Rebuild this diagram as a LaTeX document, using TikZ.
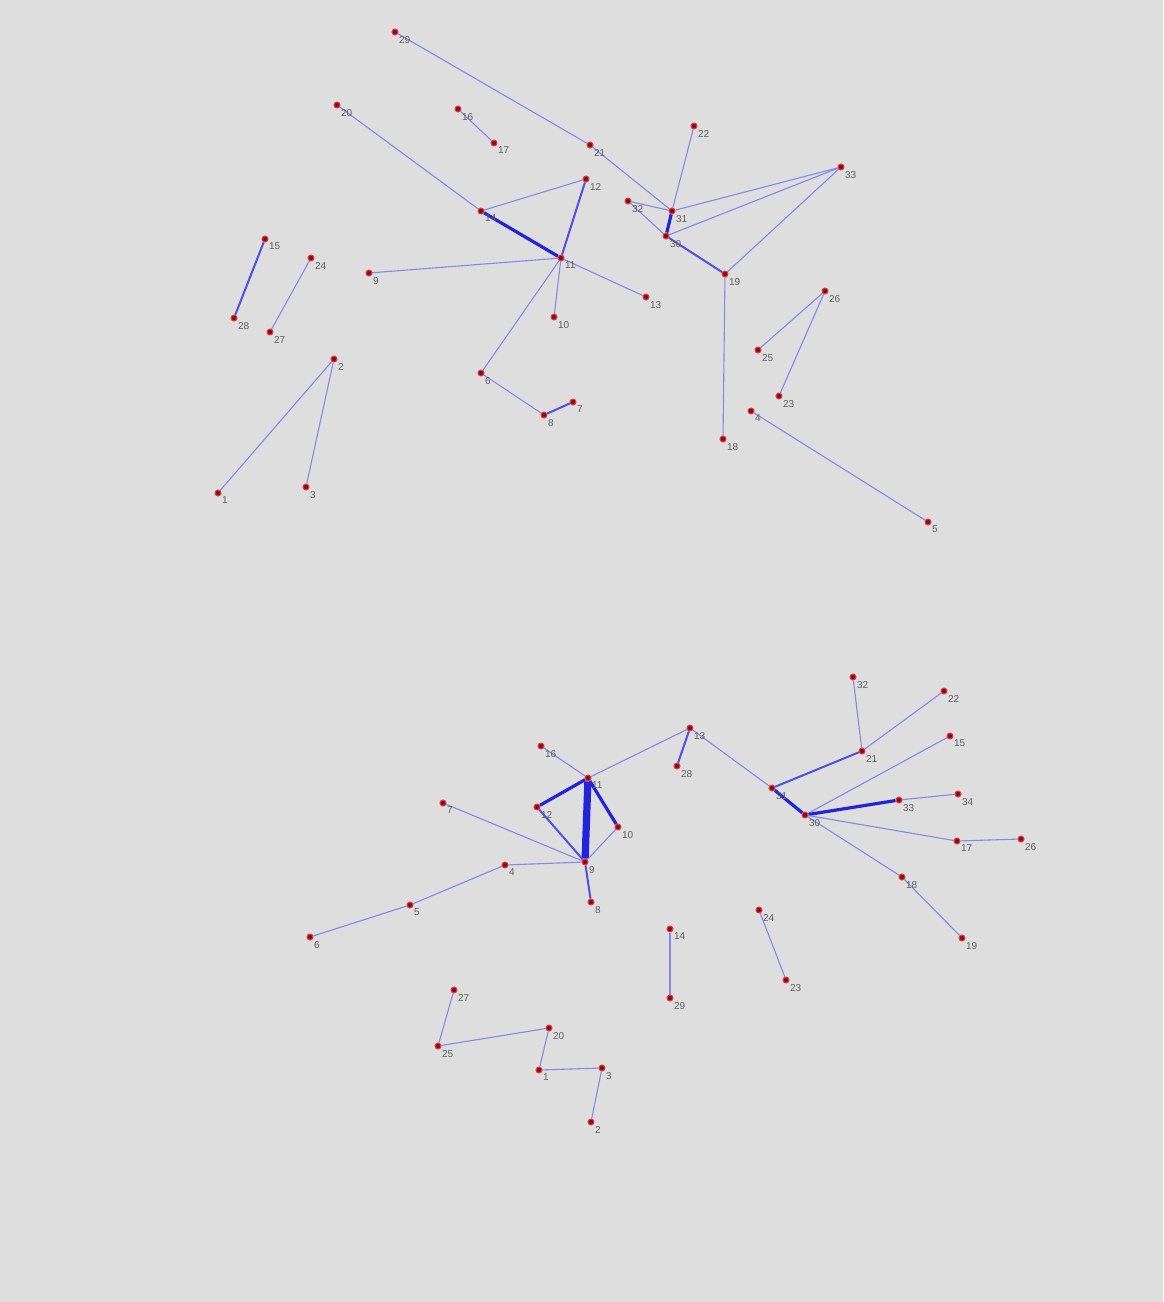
\documentclass[tikz,border=0pt]{standalone}
\usepackage{fontspec}
\setmainfont{Liberation Sans}
\definecolor{bgc}{RGB}{222,222,222}
\definecolor{dotc}{RGB}{140,10,20}
\definecolor{halo}{RGB}{225,60,60}
\definecolor{ethin}{RGB}{135,135,232}
\definecolor{emid}{RGB}{80,80,225}
\definecolor{ethick}{RGB}{35,35,220}
\definecolor{lblc}{RGB}{95,95,95}
\pgfdeclarelayer{bglayer}
\pgfdeclarelayer{edgelayer}
\pgfsetlayers{bglayer,edgelayer,main}
\begin{document}
\begin{tikzpicture}[x=0.5pt,y=-0.5pt,
  v/.style={circle,fill=dotc,draw=halo,line width=0.5pt,inner sep=0pt,minimum size=3pt},
  lbl/.style={text=lblc,font=\fontsize{5}{5}\selectfont,inner sep=0.6pt,anchor=north west},
  e1/.style={draw=ethin,line width=0.55pt},
  e2/.style={draw=emid,line width=1pt},
  e3/.style={draw=ethick,line width=1.6pt},
  e4/.style={draw=ethick,line width=3.6pt}]
\begin{pgfonlayer}{bglayer}
\fill[bgc] (0,0) rectangle (1163,1302);
\end{pgfonlayer}
\useasboundingbox (0,0) rectangle (1163,1302);
% ---------------- top graph ----------------
\foreach \n/\x/\y in {29/395/32, 20/337/105, 16/458/109, 17/494/143, 21/590/145,
  22/694/126, 33/841/167, 12/586/179, 14/481/211, 32/628/201, 31/672/211,
  30/666/236, 11/561/258, 9/369/273, 19/725/274, 13/646/297, 10/554/317,
  15/265/239, 24/311/258, 28/234/318, 27/270/332, 2/334/359, 6/481/373,
  7/573/402, 8/544/415, 26/825/291, 25/758/350, 23/779/396, 4/751/411,
  18/723/439, 5/928/522, 1/218/493, 3/306/487}
  {\node[v,label={[lbl]south east:\n}] (a\n) at (\x,\y) {};}
% ---------------- bottom graph ----------------
\foreach \n/\x/\y in {32/853/677, 22/944/691, 13/690/728, 16/541/746, 15/950/736,
  21/862/751, 28/677/766, 11/588/778, 31/772/788, 34/958/794, 33/899/800,
  7/443/803, 12/537/807, 30/805/815, 10/618/827, 17/957/841, 26/1021/839,
  9/585/862, 4/505/865, 18/902/877, 8/591/902, 5/410/905, 6/310/937,
  19/962/938, 14/670/929, 24/759/910, 29/670/998, 23/786/980, 27/454/990,
  20/549/1028, 25/438/1046, 1/539/1070, 3/602/1068, 2/591/1122}
  {\node[v,label={[lbl]south east:\n}] (b\n) at (\x,\y) {};}
\begin{pgfonlayer}{edgelayer}
% top edges
\draw[e1] (a29) -- (a21);
\draw[e1] (a21) -- (a31);
\draw[e1] (a20) -- (a14);
\draw[e1] (a16) -- (a17);
\draw[e1] (a14) -- (a12);
\draw[e3] (a14) -- (a11);
\draw[e2] (a12) -- (a11);
\draw[e1] (a11) -- (a9);
\draw[e1] (a11) -- (a13);
\draw[e1] (a11) -- (a10);
\draw[e1] (a11) -- (a6);
\draw[e1] (a6) -- (a8);
\draw[e2] (a8) -- (a7);
\draw[e1] (a22) -- (a31);
\draw[e1] (a32) -- (a31);
\draw[e1] (a32) -- (a30);
\draw[e3] (a31) -- (a30);
\draw[e1] (a31) -- (a33);
\draw[e1] (a30) -- (a33);
\draw[e1] (a19) -- (a33);
\draw[e2] (a30) -- (a19);
\draw[e1] (a19) -- (a18);
\draw[e2] (a15) -- (a28);
\draw[e1] (a24) -- (a27);
\draw[e1] (a2) -- (a1);
\draw[e1] (a2) -- (a3);
\draw[e1] (a26) -- (a25);
\draw[e1] (a26) -- (a23);
\draw[e1] (a4) -- (a5);
% bottom edges
\draw[e1] (b16) -- (b11);
\draw[e1] (b11) -- (b13);
\draw[e2] (b13) -- (b28);
\draw[e1] (b13) -- (b31);
\draw[e3] (b11) -- (b12);
\draw[e4] (b11) -- (b9);
\draw[e3] (b11) -- (b10);
\draw[e2] (b12) -- (b9);
\draw[e1] (b10) -- (b9);
\draw[e1] (b7) -- (b9);
\draw[e1] (b4) -- (b9);
\draw[e2] (b9) -- (b8);
\draw[e1] (b4) -- (b5);
\draw[e1] (b5) -- (b6);
\draw[e2] (b31) -- (b21);
\draw[e3] (b31) -- (b30);
\draw[e1] (b21) -- (b32);
\draw[e1] (b21) -- (b22);
\draw[e1] (b30) -- (b15);
\draw[e3] (b30) -- (b33);
\draw[e1] (b33) -- (b34);
\draw[e1] (b30) -- (b17);
\draw[e1] (b17) -- (b26);
\draw[e1] (b30) -- (b18);
\draw[e1] (b18) -- (b19);
\draw[e1] (b14) -- (b29);
\draw[e1] (b24) -- (b23);
\draw[e1] (b27) -- (b25);
\draw[e1] (b25) -- (b20);
\draw[e1] (b20) -- (b1);
\draw[e1] (b1) -- (b3);
\draw[e1] (b3) -- (b2);
\end{pgfonlayer}
\end{tikzpicture}
\end{document}
